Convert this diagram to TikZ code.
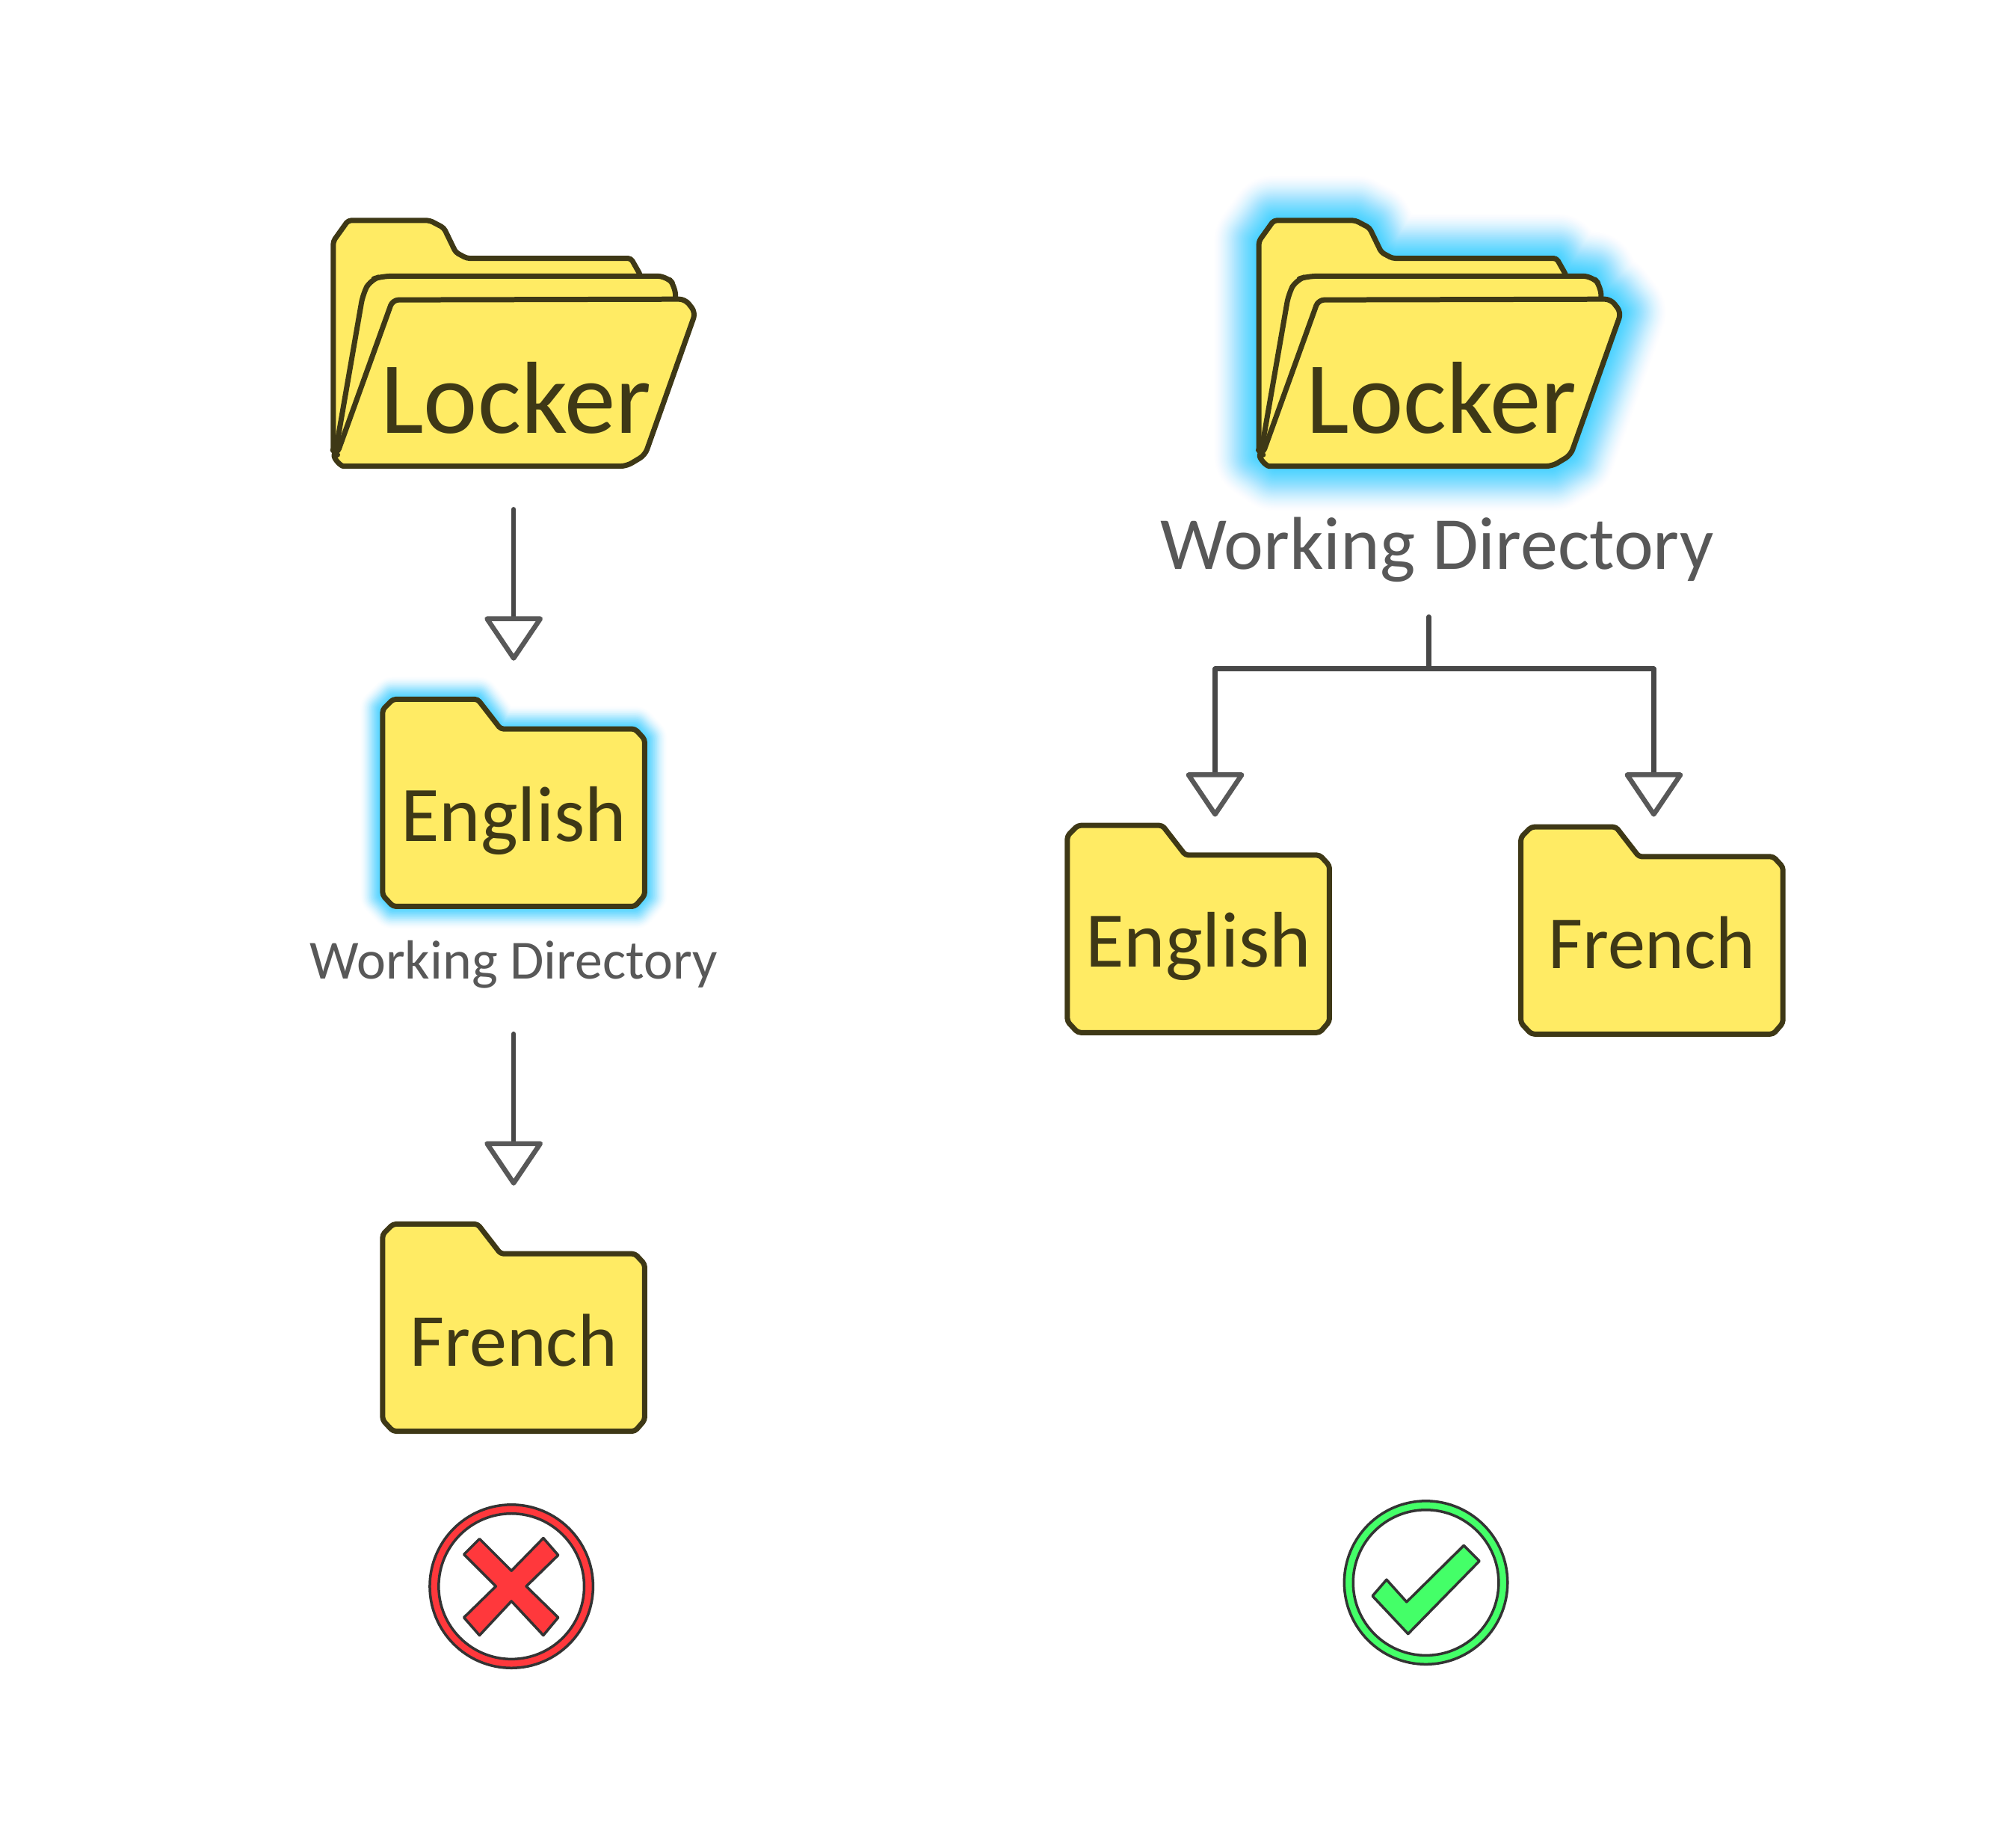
\documentclass[tikz,border=0pt]{standalone}
\usepackage{fontspec}
\setmainfont{Carlito}
\usetikzlibrary{arrows.meta}
\definecolor{folderyellow}{RGB}{255,235,100}
\definecolor{folderink}{RGB}{62,56,22}
\definecolor{glowblue}{RGB}{40,205,255}
\definecolor{flowgray}{RGB}{72,72,72}
\definecolor{labelgray}{RGB}{88,88,88}
\definecolor{badred}{RGB}{255,56,60}
\definecolor{goodgreen}{RGB}{68,255,104}
\newcommand{\closedoutline}{(0,14) -- (14,0) -- (128,0) -- (159,40) -- (340,40) -- (353,54) -- (353,264) -- (340,279) -- (14,279) -- (0,264) -- cycle}
\newcommand{\openback}{(0,28) -- (20,0) -- (130,0) -- (149,10) -- (165,43) -- (180,51) -- (401,51) -- (414,74) -- (414,100) -- (0,312) -- cycle}
\newcommand{\openglow}{(0,28) -- (20,0) -- (130,0) -- (149,10) -- (165,43) -- (180,51) -- (401,51) -- (414,70) -- (449,75) -- (461,100) -- (474,106) -- (488,124) -- (420,316) -- (395,331) -- (22,331) -- (0,316) -- cycle}
\tikzset{
	folderline/.style={draw=folderink,fill=folderyellow,line width=0.07cm,line join=round,rounded corners=0.04cm},
	foldertext/.style={anchor=base,inner sep=0pt,text=folderink,font=\fontsize{30}{30}\selectfont},
	lockertext/.style={foldertext,font=\fontsize{39}{39}\selectfont},
	folderbox/.style={inner sep=0pt,minimum width=#1},
	worklabel/.style={anchor=base,inner sep=0pt,text=labelgray},
	flowline/.style={draw=flowgray,line width=0.065cm,line cap=round},
	flowarrow/.style={flowline,-{Triangle[open,length=0.62cm,width=0.82cm,round,color=labelgray]}},
	markline/.style={draw=black!80,line width=0.035cm,line join=round},
	pics/closedfolder/.style={code={
		\draw[folderline] \closedoutline;
		\node[folderbox=3.53cm,minimum height=2.79cm] (-box) at (176.5,139.5) {};
		\node[foldertext] (-text) at (176.5,191) {#1};
	}},
	pics/openfolder/.style={code={
		\draw[folderline] \openback;
		\draw[folderline,rounded corners=0.12cm] (3,312) -- (40,99) -- (50,80) -- (66,75) -- (449,75) -- (461,89) -- (461,140) -- cycle;
		\draw[folderline,rounded corners=0.08cm] (5,315) -- (80,107) -- (474,106) -- (488,124) -- (420,316) -- (395,331) -- (22,331) .. controls (10,331) and (2,322) .. (0,310) -- cycle;
		\node[folderbox=4.86cm,minimum height=3.36cm] (-box) at (243,168) {};
		\node[lockertext] (-text) at (246,287) {#1};
	}},
	pics/closedglow/.style={code={
		\foreach \i [evaluate=\i as \o using 0.15*(1-\i/20)+0.01] in {20,19,...,1}
			\draw[draw=glowblue,draw opacity=\o,line join=round,line width=\i*0.03cm] \closedoutline;
	}},
	pics/openglow/.style={code={
		\foreach \i [evaluate=\i as \o using 0.075*(1-\i/40)+0.005] in {40,39,...,1}
			\draw[draw=glowblue,draw opacity=\o,line join=round,line width=\i*0.03cm] \openglow;
	}}
}
\begin{document}
\begin{tikzpicture}[x=0.00993cm,y=-0.00993cm]
	\fill[white] (0,0) rectangle (2716,2465);
	\useasboundingbox (0,0) rectangle (2716,2465);
	
	% Left column
	\pic at (515.5,942) {closedglow};
	\pic (english) at (515.5,942) {closedfolder={English}};
	\pic (french) at (515.5,1649) {closedfolder={\fontsize{28.5}{28.5}\selectfont French}};
	\node[worklabel,font=\fontsize{21}{21}\selectfont] (leftwork) at (692,1319) {Working Directory};
	\pic (locker) at (449,297) {openfolder={Locker}};
	\draw[flowarrow,shorten <=0.51cm,shorten >=0.5cm] (locker-box.south) -- (english-box.north);
	\draw[flowarrow,shorten <=0.6cm,shorten >=0.5cm] (leftwork.south) -- (french-box.north);
	
	% Right column
	\pic at (1696,297) {openglow};
	\pic (rightlocker) at (1696,297) {openfolder={Locker}};
	\node[worklabel,font=\fontsize{28.5}{28.5}\selectfont] (rightwork) at (1936,767) {Working Directory};
	\pic (rightenglish) at (1438,1112) {closedfolder={English}};
	\pic (rightfrench) at (2049,1114) {closedfolder={\fontsize{28.5}{28.5}\selectfont French}};
	\coordinate (stub) at (1925,831);
	\coordinate (fork) at (1925,901);
	\coordinate (forkleft) at (1637,901);
	\coordinate (forkright) at (2228,901);
	\draw[flowline] (stub) -- (fork);
	\draw[flowline] (forkleft) -- (forkright);
	\draw[flowarrow,shorten >=0.1cm] (forkleft) -- (forkleft |- rightenglish-box.north);
	\draw[flowarrow,shorten >=0.12cm] (forkright) -- (forkright |- rightfrench-box.north);
	
	% Wrong
	\draw[markline,fill=badred,even odd rule] (689,2137) circle (110) (689,2137) circle (98);
	\draw[markline,fill=badred,shift={(689,2137)}] (-43,-64) -- (-64,-43) -- (-21,0) -- (-64,42) -- (-43,66) -- (0,20) -- (43,66) -- (63,42) -- (20,0) -- (63,-42) -- (43,-65) -- (0,-21) -- cycle;
	
	% Right
	\draw[markline,fill=goodgreen,even odd rule] (1921,2132) circle (110) (1921,2132) circle (98);
	\draw[markline,fill=goodgreen,shift={(1921,2132)}] (51,-50) -- (72,-29) -- (-24,69) -- (-72,18) -- (-53,-4) -- (-26,26) -- cycle;
\end{tikzpicture}
\end{document}
